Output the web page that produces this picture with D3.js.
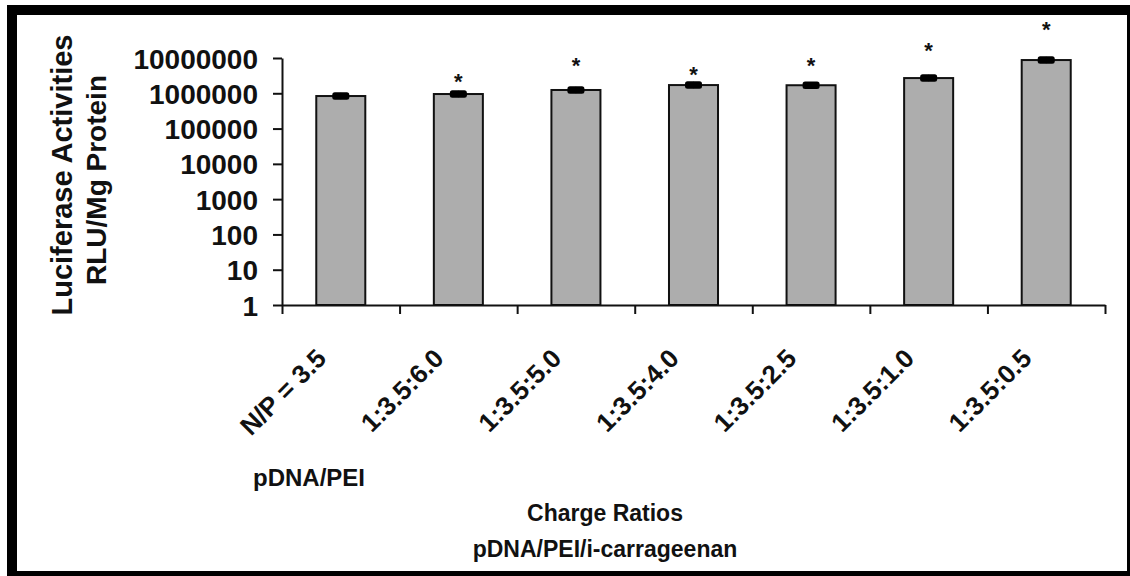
<!DOCTYPE html>
<html>
<head>
<meta charset="utf-8">
<script src="https://cdn.jsdelivr.net/npm/d3@7"></script>
<style>
  html, body { margin: 0; padding: 0; background: #fff; }
  svg { display: block; }
  text { font-family: "Liberation Sans", Arial, sans-serif; font-weight: bold; fill: #111; }
</style>
</head>
<body>
<svg id="chart" width="1130" height="576"></svg>
<script>
// ---------- data ----------
const categories = ["N/P = 3.5", "1:3.5:6.0", "1:3.5:5.0", "1:3.5:4.0", "1:3.5:2.5", "1:3.5:1.0", "1:3.5:0.5"];
const values     = [836000, 953000, 1240000, 1710000, 1690000, 2700000, 8750000];
const errors     = [70000, 80000, 100000, 140000, 140000, 220000, 700000];
const significant = [false, true, true, true, true, true, true];
const starLevels = [null, 2700000, 7700000, 4300000, 7700000, 20500000, 80500000];
const yTicks = [1, 10, 100, 1000, 10000, 100000, 1000000, 10000000];
const yTitleLines = ["Luciferase Activities", "RLU/Mg Protein"];
const groupLabel = "pDNA/PEI";
const xTitleLines = ["Charge Ratios", "pDNA/PEI/i-carrageenan"];

// ---------- layout ----------
const W = 1130, H = 576;
const plot = { left: 282, right: 1105, top: 58, bottom: 305 };
const svg = d3.select("#chart");

svg.append("rect").attr("width", W).attr("height", H).attr("fill", "#fff");

// frame
svg.append("rect").attr("x", 7).attr("y", 5).attr("width", W - 7).attr("height", 10).attr("fill", "#000");
svg.append("rect").attr("x", 7).attr("y", 5).attr("width", 10).attr("height", H - 5).attr("fill", "#000");
svg.append("rect").attr("x", 1127).attr("y", 5).attr("width", 3).attr("height", H - 5).attr("fill", "#000");
svg.append("rect").attr("x", 7).attr("y", 571).attr("width", W - 7).attr("height", 5).attr("fill", "#000");

// scales
const y = d3.scaleLog().domain([1, 1e7]).range([plot.bottom, plot.top]);
const x = d3.scaleBand().domain(categories).range([plot.left, plot.right])
  .paddingInner(0.583).paddingOuter(0.2915);
const xIdx = d3.scaleLinear().domain([0, categories.length]).range([plot.left, plot.right]);

// bars
svg.append("g").selectAll("rect").data(categories).join("rect")
  .attr("x", d => x(d))
  .attr("y", (d, i) => y(values[i]))
  .attr("width", x.bandwidth())
  .attr("height", (d, i) => y(1) - y(values[i]))
  .attr("fill", "#adadad")
  .attr("stroke", "#111")
  .attr("stroke-width", 2);

// error bars
const eb = svg.append("g").attr("stroke", "#000").attr("stroke-linecap", "round");
categories.forEach((c, i) => {
  const cx = x(c) + x.bandwidth() / 2;
  const yHi = y(values[i] + errors[i]);
  const yLo = y(values[i] - errors[i]);
  eb.append("line").attr("x1", cx).attr("x2", cx).attr("y1", yHi).attr("y2", yLo).attr("stroke-width", 4);
  [yHi, yLo].forEach(yy => {
    eb.append("line").attr("x1", cx - 6).attr("x2", cx + 6).attr("y1", yy).attr("y2", yy).attr("stroke-width", 5);
  });
});

// significance stars
svg.append("g").selectAll("text").data(categories.filter((c, i) => significant[i])).join("text")
  .attr("x", d => x(d) + x.bandwidth() / 2)
  .attr("y", d => y(starLevels[categories.indexOf(d)]) + 11)
  .attr("text-anchor", "middle")
  .attr("font-size", 22)
  .text("*");

// y axis
const yAxis = svg.append("g").attr("transform", `translate(${plot.left},0)`)
  .call(d3.axisLeft(y).tickValues(yTicks).tickFormat(d3.format("d")).tickSize(9).tickSizeOuter(0).tickPadding(15));
yAxis.select(".domain").attr("stroke", "#111").attr("stroke-width", 2);
yAxis.selectAll(".tick line").attr("stroke", "#111").attr("stroke-width", 2);
yAxis.selectAll(".tick text")
  .attr("font-size", 28)
  .attr("font-family", "Liberation Sans, Arial, sans-serif")
  .attr("font-weight", "bold")
  .attr("fill", "#111")
  .attr("dy", "0.36em");

// x axis (category boundary ticks)
const xAxis = svg.append("g").attr("transform", `translate(0,${plot.bottom})`)
  .call(d3.axisBottom(xIdx).tickValues(d3.range(categories.length + 1)).tickFormat("").tickSize(9).tickSizeOuter(0));
xAxis.select(".domain").attr("stroke", "#111").attr("stroke-width", 2);
xAxis.selectAll(".tick line").attr("stroke", "#111").attr("stroke-width", 2);

// x category labels, rotated
svg.append("g").selectAll("text").data(categories).join("text")
  .attr("transform", d => `translate(${x(d) + x.bandwidth() / 2 - 13},360) rotate(-45)`)
  .attr("text-anchor", "end")
  .attr("font-size", 26)
  .text(d => d);

// y title
const yt = svg.append("g");
yt.append("text").attr("transform", "translate(72,175) rotate(-90)")
  .attr("text-anchor", "middle").attr("font-size", 29).text(yTitleLines[0]);
yt.append("text").attr("transform", "translate(106,180) rotate(-90)")
  .attr("text-anchor", "middle").attr("font-size", 28).text(yTitleLines[1]);

// group label & x title
svg.append("text").attr("x", 253).attr("y", 486).attr("font-size", 24).text(groupLabel);
svg.append("text").attr("x", 605).attr("y", 521).attr("text-anchor", "middle").attr("font-size", 23).text(xTitleLines[0]);
svg.append("text").attr("x", 605).attr("y", 557).attr("text-anchor", "middle").attr("font-size", 23).text(xTitleLines[1]);
</script>
</body>
</html>
